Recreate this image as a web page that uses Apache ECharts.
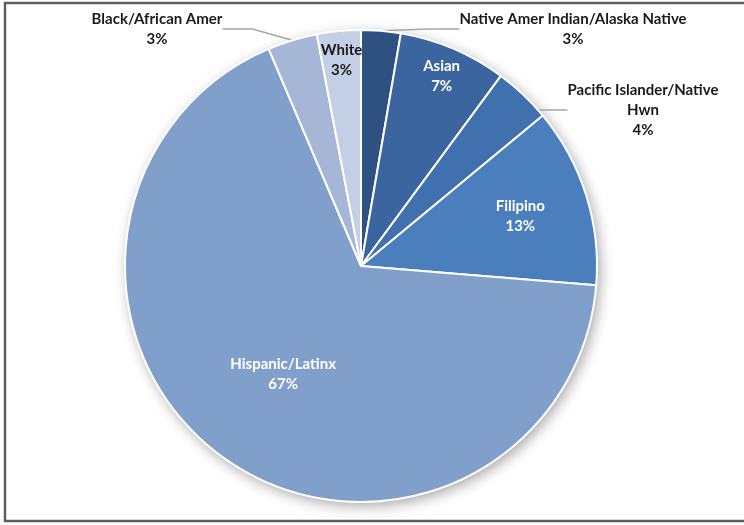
<!DOCTYPE html>
<html>
<head>
<meta charset="utf-8">
<script src="https://cdn.jsdelivr.net/npm/echarts@6/dist/echarts.min.js"></script>
<style>
html,body{margin:0;padding:0;background:#fff;}
#chart{width:744px;height:525px;}
</style>
</head>
<body>
<div id="chart"></div>
<script>
// Data
const categories = ['Native Amer Indian/Alaska Native', 'Asian', 'Pacific Islander/Native\nHwn', 'Filipino', 'Hispanic/Latinx', 'Black/African Amer', 'White'];
const values = [2.7, 7.4, 3.9, 12.3, 67.3, 3.4, 3.0];
const percentLabels = ['3%', '7%', '4%', '13%', '67%', '3%', '3%'];
const colors = ['#2f5182', '#3b659f', '#4170ae', '#4a7ebc', '#819fcb', '#a5b6d6', '#c3cfe4'];

const chart = echarts.init(document.getElementById('chart'), null, {renderer: 'canvas'});
const FONT = 'Lato, "Open Sans", sans-serif';
const cx = 361, cy = 266, R = 236;

// label placement: inside labels at a distance from the centre, outside labels at fixed spots
const insideRadius = {1: 203, 3: 164, 4: 130, 6: 204};
const outsidePos = {0: [573, 29], 2: [643, 110], 5: [157, 29]};

const total = values.reduce((a, b) => a + b, 0);
const midAngles = [];
let acc = 0;
values.forEach(v => { midAngles.push((acc + v / 2) / total * 2 * Math.PI); acc += v; });

const data = categories.map((c, i) => {
  const item = {name: c, value: values[i], itemStyle: {color: colors[i]}};
  if (insideRadius[i] !== undefined) {
    const a = midAngles[i];
    const r = insideRadius[i] - R / 2;
    item.label = {
      position: 'inside',
      offset: [r * Math.sin(a), -r * Math.cos(a)],
      color: i === 6 ? '#1a1a1a' : '#ffffff'
    };
    item.labelLine = {show: false};
  } else {
    item.label = {position: 'outside', color: '#1a1a1a'};
    item.labelLine = {show: true, length: 12, length2: 30, lineStyle: {color: '#a6a6a6', width: 1.5}};
  }
  return item;
});

chart.setOption({
  animation: false,
  backgroundColor: '#ffffff',
  graphic: [{
    type: 'rect',
    shape: {x: 5, y: 3, width: 760, height: 518},
    style: {fill: 'none', stroke: '#5f5f5f', lineWidth: 2.5},
    silent: true,
    z: 100
  }],
  series: [
    {
      type: 'pie',
      silent: true,
      center: [cx, cy],
      radius: R,
      data: [{value: 1, name: ''}],
      itemStyle: {color: '#ffffff', shadowBlur: 14, shadowColor: 'rgba(0,0,0,0.35)', shadowOffsetX: 3, shadowOffsetY: 4},
      label: {show: false},
      labelLine: {show: false},
      z: 1
    },
    {
      type: 'pie',
      center: [cx, cy],
      radius: R,
      startAngle: 90,
      clockwise: true,
      z: 2,
      data: data,
      itemStyle: {borderColor: '#ffffff', borderWidth: 2},
      label: {
        show: true,
        fontFamily: FONT,
        fontWeight: 'bold',
        fontSize: 15,
        lineHeight: 20,
        align: 'center',
        formatter: p => p.name + '\n' + percentLabels[p.dataIndex]
      },
      labelLayout: function (params) {
        const p = outsidePos[params.dataIndex];
        if (p) {
          return {x: p[0], y: p[1], align: 'center', verticalAlign: 'middle'};
        }
        return {};
      }
    }
  ]
});
</script>
</body>
</html>
